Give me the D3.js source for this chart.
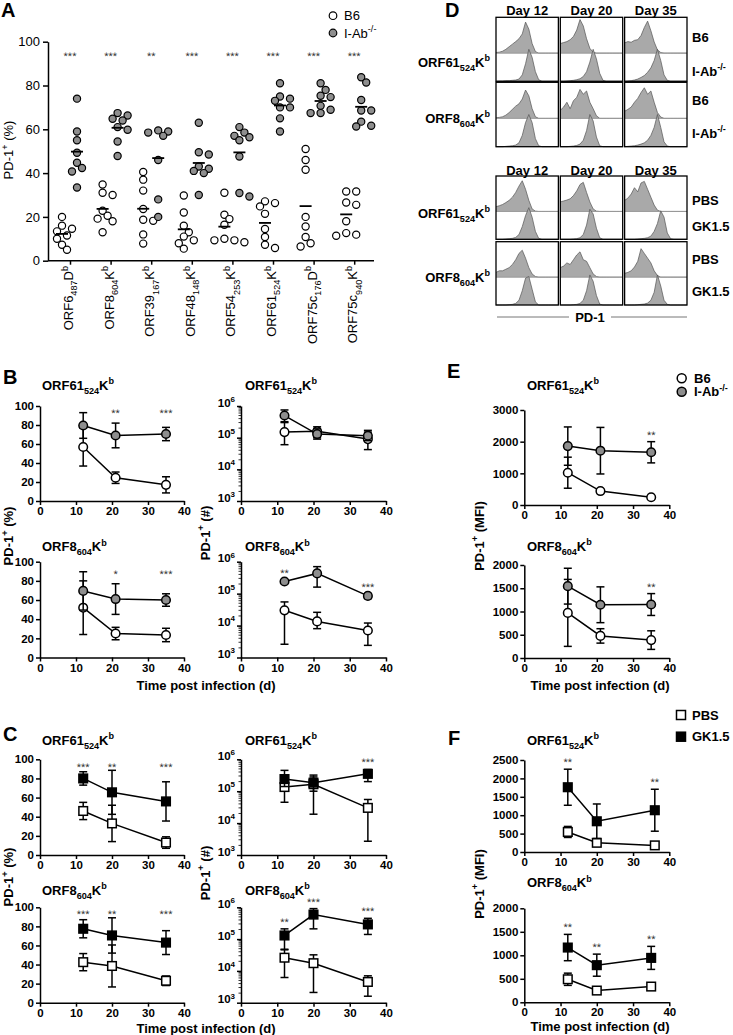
<!DOCTYPE html>
<html><head><meta charset="utf-8">
<script src="https://cdn.jsdelivr.net/npm/d3@7"></script>
<style>body{margin:0;background:#fff}svg{display:block}</style>
</head><body>
<svg id="fig" width="733" height="1035"></svg>
<script>
const FONT = "'Liberation Sans', Arial, Helvetica, sans-serif";

// ---------- Panel A data ----------
const epitopeBase = ["ORF6","ORF8","ORF39","ORF48","ORF54","ORF61","ORF75c","ORF75c"];
const epitopeSub  = ["487","604","167","148","253","524","176","940"];
const epitopeMhc  = ["D","K","K","K","K","K","D","K"];
const aStars = ["***","***","**","***","***","***","***","***"];
const aTicks = [0,20,40,60,80,100];
const aB6 = [
  [20,16,14.6,11.5,13.4,10,7.3,5],
  [34.8,30,31,22.8,20.5,19.2,18,13],
  [40.5,37,32,23.6,18.7,18.2,12,7.8],
  [29.8,22,16,13,11,9.3,8,5.5],
  [31,21,19,16.4,10,9.3,9.3,8.4],
  [27.1,26.3,24.8,21.4,14.5,10.8,7.3,5.8],
  [51,46,41.5,20,15.6,10.8,8,6.5],
  [31.6,31.6,26.6,25.5,18,12.6,11.9,11.4]
];
const aIAb = [
  [74,59,55,49.3,44.7,42.3,40.7,33.4],
  [67.4,66.3,64.8,64,61,59.8,54.4,47.8],
  [59.5,59,58.5,57,46,28,20],
  [63,49.5,48.5,43,42,41,40,30],
  [61,58.5,57,56.4,55,47.6,30.9,29.3],
  [81,75,74,73,70,70,65,59],
  [81,78,75.3,74.7,70.7,68.9,67.4,67.4],
  [83.8,81.4,73.4,68.6,68.6,63.5,61.6,61.3]
];
const groupsA = ["B6","I-Ab"];
const groupsC = ["PBS","GK1.5"];

// ---------- Panel D histogram data (relative counts per bin) ----------
const histDays = ["Day 12","Day 20","Day 35"];
const hist61_B6 = [
  [0.02,0.03,0.06,0.12,0.2,0.28,0.36,0.45,0.6,0.97,0.75,0.3,0.05,0,0,0,0,0,0,0],
  [0.3,0.33,0.36,0.42,0.52,0.72,1.05,0.85,0.45,0.15,0.03,0,0,0,0,0,0,0,0,0],
  [0.32,0.36,0.34,0.4,0.42,0.55,0.8,1.0,0.7,0.35,0.1,0.02,0,0,0,0,0,0,0,0]
];
const hist61_IAb = [
  [0,0.01,0.01,0.02,0.02,0.03,0.04,0.07,0.2,0.55,1.0,0.75,0.3,0.05,0,0,0,0,0,0],
  [0,0,0.01,0.02,0.03,0.05,0.08,0.15,0.3,0.6,1.0,0.7,0.25,0.03,0,0,0,0,0,0],
  [0,0.01,0.02,0.04,0.07,0.12,0.18,0.28,0.42,0.65,1.0,0.65,0.2,0.03,0,0,0,0,0,0]
];
const hist8_B6 = [
  [0.02,0.03,0.05,0.1,0.18,0.28,0.38,0.45,0.6,0.88,0.7,0.3,0.05,0,0,0,0,0,0,0],
  [0.25,0.35,0.5,0.3,0.55,0.65,0.9,0.75,0.85,0.5,0.3,0.08,0,0,0,0,0,0,0,0],
  [0.22,0.28,0.35,0.5,0.62,0.8,0.95,0.75,0.85,0.5,0.18,0.04,0,0,0,0,0,0,0,0]
];
const hist8_IAb = [
  [0,0,0,0.01,0.02,0.03,0.05,0.12,0.35,0.75,1.0,0.75,0.25,0.03,0,0,0,0,0,0],
  [0,0,0,0.01,0.02,0.04,0.08,0.2,0.5,1.0,0.8,0.3,0.03,0,0,0,0,0,0,0],
  [0,0.01,0.02,0.03,0.05,0.08,0.12,0.2,0.35,0.6,1.0,0.6,0.15,0.02,0,0,0,0,0,0]
];
const hist61_PBS = [
  [0.15,0.18,0.22,0.28,0.35,0.45,0.6,0.8,0.97,0.7,0.35,0.08,0.01,0,0,0,0,0,0,0],
  [0.3,0.33,0.36,0.4,0.5,0.65,0.85,0.92,0.6,0.3,0.08,0.01,0,0,0,0,0,0,0,0],
  [0.35,0.42,0.55,0.75,0.62,0.9,0.95,0.7,0.45,0.2,0.04,0,0,0,0,0,0,0,0,0]
];
const hist61_GK = [
  [0,0,0,0.01,0.02,0.03,0.06,0.15,0.4,0.75,1.0,0.7,0.25,0.03,0,0,0,0,0,0],
  [0,0,0,0,0.01,0.02,0.05,0.15,0.45,0.95,0.8,0.35,0.05,0,0,0,0,0,0,0],
  [0,0,0,0,0.01,0.02,0.03,0.05,0.1,0.25,0.5,0.9,0.7,0.2,0.02,0,0,0,0,0]
];
const hist8_PBS = [
  [0.15,0.2,0.2,0.25,0.3,0.4,0.55,0.75,0.85,0.6,0.3,0.1,0.02,0,0,0,0,0,0,0],
  [0.3,0.35,0.45,0.4,0.55,0.7,0.8,0.55,0.5,0.3,0.1,0.02,0,0,0,0,0,0,0,0],
  [0.12,0.15,0.2,0.32,0.5,0.9,0.75,0.6,0.45,0.2,0.05,0,0,0,0,0,0,0,0,0]
];
const hist8_GK = [
  [0,0,0,0,0.01,0.02,0.05,0.15,0.45,0.85,0.9,0.5,0.1,0,0,0,0,0,0,0],
  [0,0,0,0,0.01,0.02,0.05,0.15,0.45,0.95,0.75,0.3,0.03,0,0,0,0,0,0,0],
  [0,0,0,0,0.01,0.02,0.03,0.06,0.15,0.4,0.95,0.6,0.15,0.02,0,0,0,0,0,0]
];

// ---------- Time-course data ----------
const timeTicks = [0,10,20,30,40];
const pctTicks = [0,20,40,60,80,100];
const logTicks = [1e3,1e4,1e5,1e6];
const mfiTicks3000 = [0,1000,2000,3000];
const mfiTicks2000 = [0,500,1000,1500,2000];
const mfiTicks2500 = [0,500,1000,1500,2000,2500];

const daysB = [12,21,35];
const daysC = [12,20,35];
const daysE = [12,21,35];
const daysFtop = [12,20,36];
const daysFbot = [12,20,35];

// B: % PD-1+ (mean, SD)
const bPct61_B6 = [56.8,24.5,17],   bPct61_B6_sd = [20,6,8.5];
const bPct61_IAb = [79.5,69,70.5],  bPct61_IAb_sd = [13.5,13,7];
const bPct8_B6 = [52,25,23.5],      bPct8_B6_sd = [28,6.5,7];
const bPct8_IAb = [69.5,61,60],     bPct8_IAb_sd = [20,16,6.5];
// B: # PD-1+ (mean, low, high)
const bNum61_B6 = [1.5e5,1.6e5,9e4],  bNum61_B6_lo = [6e4,1.0e5,4.2e4], bNum61_B6_hi = [3e5,2.2e5,1.5e5];
const bNum61_IAb = [5e5,1.3e5,1.15e5], bNum61_IAb_lo = [3.2e5,9e4,8e4], bNum61_IAb_hi = [7.5e5,1.9e5,1.7e5];
const bNum8_B6 = [3e4,1.35e4,7e3],    bNum8_B6_lo = [2.6e3,8e3,2.4e3], bNum8_B6_hi = [5.5e4,2.6e4,1.2e4];
const bNum8_IAb = [2.4e5,4.3e5,8.5e4], bNum8_IAb_lo = [2.1e5,1.6e5,7e4], bNum8_IAb_hi = [2.7e5,7e5,1.0e5];
const bStarsPct61 = ["","**","***"], bStarsPct8 = ["","*","***"];
const bStarsNum61 = ["","",""],      bStarsNum8 = ["**","","***"];

// C
const cPct61_PBS = [46,33,13],   cPct61_PBS_sd = [9,19,6];
const cPct61_GK = [80,65.5,56],  cPct61_GK_sd = [7,23,20.5];
const cPct8_PBS = [42.5,38.5,23], cPct8_PBS_sd = [9,22,5];
const cPct8_GK = [77.5,70.5,63],  cPct8_GK_sd = [9.5,18.5,12.5];
const cNum61_PBS = [1.35e5,1.65e5,3e4], cNum61_PBS_lo = [4.5e4,1.9e4,2.7e3], cNum61_PBS_hi = [2.8e5,2.8e5,5.5e4];
const cNum61_GK = [2.4e5,1.85e5,3.5e5], cNum61_GK_lo = [1.4e5,1.0e5,2e5],    cNum61_GK_hi = [4.5e5,3.2e5,4.8e5];
const cNum8_PBS = [2.6e4,1.75e4,4.5e3], cNum8_PBS_lo = [6.2e3,2.1e3,1.6e3],  cNum8_PBS_hi = [4.6e4,3.2e4,7e3];
const cNum8_GK = [1.3e5,5.9e5,2.9e5],   cNum8_GK_lo = [4.8e4,2.1e5,1.4e5],   cNum8_GK_hi = [2.1e5,9.1e5,4.5e5];
const cStarsPct61 = ["***","**","***"], cStarsPct8 = ["***","**","***"];
const cStarsNum61 = ["","","***"],      cStarsNum8 = ["**","***","***"];

// E: MFI
const eMfi61_B6 = [1020,440,245],   eMfi61_B6_sd = [490,60,30];
const eMfi61_IAb = [1860,1715,1665], eMfi61_IAb_sd = [605,735,335];
const eMfi8_B6 = [970,475,385],     eMfi8_B6_sd = [720,155,200];
const eMfi8_IAb = [1545,1145,1150], eMfi8_IAb_sd = [385,385,235];
const eStars61 = ["","","**"], eStars8 = ["","","**"];

// F: MFI
const fMfi61_PBS = [545,250,180],  fMfi61_PBS_sd = [150,45,25];
const fMfi61_GK = [1760,835,1135], fMfi61_GK_sd = [490,470,570];
const fMfi8_PBS = [490,250,335],   fMfi8_PBS_sd = [130,20,30];
const fMfi8_GK = [1165,790,945],   fMfi8_GK_sd = [280,235,245];
const fStars61 = ["**","","**"], fStars8 = ["**","**","**"];

// ---------- helpers ----------
const svg = d3.select("#fig").attr("font-family", FONT);
svg.append("rect").attr("width",733).attr("height",1035).attr("fill","#fff");
const GRAY = "#8e8e8e";

function rich(sel, parts, fs) {
  let cur = 0;
  parts.forEach(([s, m]) => {
    const target = m === "sub" ? 0.34*fs : m === "sup" ? -0.4*fs : 0;
    const t = sel.append("tspan").attr("dy", (target - cur).toFixed(2)).text(s);
    if (m) t.attr("font-size", (0.7*fs).toFixed(1));
    cur = target;
  });
  return sel;
}
function label(parent, x, y, parts, o = {}) {
  const fs = o.fs || 13;
  const t = parent.append("text").attr("font-size", fs)
    .attr("font-weight", o.weight || "bold").attr("text-anchor", o.anchor || "start").attr("fill","#000");
  if (o.rotate) t.attr("transform", `translate(${x},${y}) rotate(-90)`);
  else t.attr("x", x).attr("y", y);
  rich(t, typeof parts === "string" ? [[parts, ""]] : parts, fs);
  return t;
}
const epiParts = i => [[epitopeBase[i],""],[epitopeSub[i],"sub"],[epitopeMhc[i],""],["b","sup"]];
const groupParts = name => name === "I-Ab" ? [["I-Ab",""],["-/-","sup"]] : [[name,""]];
function styleAxis(g, fs, weight) {
  g.attr("font-family", FONT).attr("font-size", fs).attr("font-weight", weight);
  g.select(".domain").attr("stroke","#000").attr("stroke-width",1.5);
  g.selectAll(".tick line").attr("stroke","#000").attr("stroke-width",1.5);
  g.selectAll(".tick text").attr("fill","#000");
}
function panelLetter(x, y, s) {
  svg.append("text").attr("x",x).attr("y",y).attr("font-size",20).attr("font-weight","bold").text(s);
}
function stars(g, x, y, s) {
  g.append("text").attr("x",x).attr("y",y).attr("text-anchor","middle")
    .attr("font-size",11).attr("fill","#333").attr("text-rendering","geometricPrecision").text(s);
}

// ---------- Panel A ----------
(function(){
  const g = svg.append("g");
  const ax = d3.scalePoint().domain(d3.range(epitopeBase.length)).range([70, 354.2]);
  const ay = d3.scaleLinear().domain([0,100]).range([260.7, 41.7]);
  const ya = g.append("g").attr("transform","translate(48,0)")
    .call(d3.axisLeft(ay).tickValues(aTicks).tickSize(5).tickPadding(3).tickSizeOuter(0));
  styleAxis(ya, 13, "normal");
  g.append("line").attr("x1",48).attr("x2",374).attr("y1",ay(0)).attr("y2",ay(0))
    .attr("stroke","#000").attr("stroke-width",1.5);
  const xa = g.append("g").attr("transform",`translate(0,${ay(0)})`)
    .call(d3.axisBottom(ax).tickSize(4).tickFormat(() => ""));
  xa.select(".domain").remove();
  xa.selectAll(".tick line").attr("stroke","#000").attr("stroke-width",1.5);
  epitopeBase.forEach((b, i) => {
    label(g, ax(i)+3, 266, epiParts(i), {fs:13, weight:"normal", anchor:"end", rotate:true});
    stars(g, ax(i), ay(94.5)+6, aStars[i]);
  });
  function swarm(values, cx) {
    const pts = values.map(v => ({v, y: ay(v)})).sort((a,b) => a.y - b.y);
    const placed = [];
    pts.forEach(p => {
      for (let k = 0; k < 30; k++) {
        const off = k === 0 ? 0 : (k % 2 ? 1 : -1) * Math.ceil(k/2) * 5;
        const x = cx + off;
        if (placed.every(q => Math.hypot(q.x - x, q.y - p.y) >= 6.6)) { p.x = x; placed.push(p); return; }
      }
    });
    return placed;
  }
  const groups = [{vals:aB6, dx:-8, fill:"#fff"},{vals:aIAb, dx:7, fill:GRAY}];
  groups.forEach(gr => {
    gr.vals.forEach((vals, i) => {
      const pts = swarm(vals, ax(i) + gr.dx);
      g.append("g").selectAll("circle").data(pts).join("circle")
        .attr("cx", d => d.x).attr("cy", d => d.y).attr("r", 3.6)
        .attr("fill", gr.fill).attr("stroke","#000").attr("stroke-width",1.2);
    });
  });
  groups.forEach(gr => {
    gr.vals.forEach((vals, i) => {
      const m = d3.mean(vals);
      g.append("line").attr("x1", ax(i)+gr.dx-6).attr("x2", ax(i)+gr.dx+6)
        .attr("y1", ay(m)).attr("y2", ay(m)).attr("stroke","#000").attr("stroke-width",1.8);
    });
  });
  label(g, 13, 150, [["PD-1",""],["+","sup"],[" (%)",""]], {fs:13, weight:"normal", anchor:"middle", rotate:true});
  groupsA.forEach((n, i) => {
    g.append("circle").attr("cx",333).attr("cy",15.7 + i*17.3).attr("r",3.8)
      .attr("fill", i ? GRAY : "#fff").attr("stroke","#000").attr("stroke-width",1.2);
    label(g, 344, 20.3 + i*17.3, groupParts(n), {fs:13, weight:"normal"});
  });
})();
panelLetter(1, 17, "A");

// ---------- Panel D ----------
(function(){
  const g = svg.append("g");
  const col = d3.scaleBand().domain(histDays).range([496, 687]).paddingInner(0.03);
  const sets = [
    {dayY: 15, rows: [
      {y0:17.3, h:64, epi:5, lab:66.5, top:hist61_B6, bot:hist61_IAb, names:groupsA, ny:[41.5,75.5]},
      {y0:82.3, h:64.4, epi:1, lab:122.5, top:hist8_B6, bot:hist8_IAb, names:groupsA, ny:[104.5,137.5]}]},
    {dayY: 174.5, rows: [
      {y0:176, h:63.3, epi:5, lab:217.5, top:hist61_PBS, bot:hist61_GK, names:groupsC, ny:[204.5,230.5]},
      {y0:241.7, h:63.3, epi:1, lab:281.5, top:hist8_PBS, bot:hist8_GK, names:groupsC, ny:[263.5,295.5]}]}
  ];
  sets.forEach(set => {
    histDays.forEach(d => {
      g.append("text").attr("x", col(d) + col.bandwidth()/2).attr("y", set.dayY)
        .attr("text-anchor","middle").attr("font-size",13).attr("font-weight","bold").text(d);
    });
    set.rows.forEach(r => {
      label(g, 490, r.lab, epiParts(r.epi), {fs:13, anchor:"end"});
      label(g, 692, r.ny[0], groupParts(r.names[0]), {fs:13});
      label(g, 692, r.ny[1], groupParts(r.names[1]), {fs:13});
      histDays.forEach((d, j) => {
        const bx = col(d), bw = col.bandwidth();
        const sep = r.y0 + 0.56*r.h, unit = 0.5*r.h, base2 = r.y0 + r.h;
        const hx = d3.scaleLinear().domain([0, r.top[j].length - 1]).range([bx, bx + bw]);
        const hyT = d3.scaleLinear().domain([0,1]).range([sep, sep - unit]);
        const hyB = d3.scaleLinear().domain([0,1]).range([base2, base2 - unit]);
        g.append("path").datum(r.top[j])
          .attr("d", d3.area().x((v,i) => hx(i)).y0(sep).y1(v => hyT(v)))
          .attr("fill","#a9a9a9");
        g.append("path").datum(r.top[j])
          .attr("d", d3.line().x((v,i) => hx(i)).y(v => hyT(v)))
          .attr("fill","none").attr("stroke","#555").attr("stroke-width",0.7);
        g.append("line").attr("x1",bx).attr("x2",bx+bw).attr("y1",sep).attr("y2",sep)
          .attr("stroke","#9a9a9a").attr("stroke-width",1);
        g.append("path").datum(r.bot[j])
          .attr("d", d3.area().x((v,i) => hx(i)).y0(base2).y1(v => hyB(v)))
          .attr("fill","#a9a9a9");
        g.append("path").datum(r.bot[j])
          .attr("d", d3.line().x((v,i) => hx(i)).y(v => hyB(v)))
          .attr("fill","none").attr("stroke","#555").attr("stroke-width",0.7);
        g.append("rect").attr("x",bx).attr("y",r.y0).attr("width",bw).attr("height",r.h)
          .attr("fill","none").attr("stroke","#000").attr("stroke-width",1.3);
      });
    });
  });
  g.append("text").attr("x",590).attr("y",321.5).attr("text-anchor","middle")
    .attr("font-size",13).attr("font-weight","bold").text("PD-1");
  g.append("line").attr("x1",497).attr("x2",569).attr("y1",317).attr("y2",317).attr("stroke","#777");
  g.append("line").attr("x1",611).attr("x2",687).attr("y1",317).attr("y2",317).attr("stroke","#777");
})();
panelLetter(445, 16.7, "D");

// ---------- time-course plots ----------
const sdSeries = (mean, sd, shape, fill) => ({mean, lo: mean.map((m,i) => m - sd[i]), hi: mean.map((m,i) => m + sd[i]), shape, fill});
const rgSeries = (mean, lo, hi, shape, fill) => ({mean, lo, hi, shape, fill});

function xyPlot(c) {
  const g = svg.append("g");
  const x = d3.scaleLinear().domain([0,40]).range(c.xr);
  const y = c.log ? d3.scaleLog().domain([1e3,1e6]).range(c.yr) : d3.scaleLinear().domain(c.yd).range(c.yr);
  const xa = g.append("g").attr("transform",`translate(0,${c.yr[0]})`)
    .call(d3.axisBottom(x).tickValues(timeTicks).tickSize(4).tickPadding(2).tickSizeOuter(0));
  styleAxis(xa, 11.5, "bold");
  const yAx = d3.axisLeft(y).tickValues(c.ticks).tickSize(4).tickPadding(2).tickSizeOuter(0)
    .tickFormat(c.log ? () => "" : d3.format("d"));
  const ya = g.append("g").attr("transform",`translate(${c.xr[0]},0)`).call(yAx);
  styleAxis(ya, 11.5, "bold");
  if (c.log) {
    ya.selectAll(".tick text").each(function(d) {
      const t = d3.select(this); t.text(null);
      rich(t, [["10",""],[String(Math.round(Math.log10(d))),"sup"]], 11.5);
    });
    const minor = [];
    [1e3,1e4,1e5].forEach(e => d3.range(2,10).forEach(k => minor.push(k*e)));
    ya.selectAll(".minor").data(minor).join("line").attr("class","minor")
      .attr("x1",-2.5).attr("x2",0).attr("y1",d => y(d)).attr("y2",d => y(d))
      .attr("stroke","#000").attr("stroke-width",0.8);
  }
  c.series.forEach(s => {
    const pts = c.days.map((d,i) => ({x: x(d), y: y(s.mean[i]), lo: y(s.lo[i]), hi: y(s.hi[i])}));
    const sg = g.append("g");
    sg.selectAll(".eb").data(pts).join("line").attr("class","eb")
      .attr("x1",p => p.x).attr("x2",p => p.x).attr("y1",p => p.lo).attr("y2",p => p.hi)
      .attr("stroke","#000").attr("stroke-width",1.5);
    ["lo","hi"].forEach(k => sg.selectAll(".cap"+k).data(pts).join("line").attr("class","cap"+k)
      .attr("x1",p => p.x-4).attr("x2",p => p.x+4).attr("y1",p => p[k]).attr("y2",p => p[k])
      .attr("stroke","#000").attr("stroke-width",1.5));
    sg.append("path").datum(pts).attr("d", d3.line().x(p => p.x).y(p => p.y))
      .attr("fill","none").attr("stroke","#000").attr("stroke-width",1.5);
    if (s.shape === "circle") {
      sg.selectAll(".mk").data(pts).join("circle").attr("class","mk")
        .attr("cx",p => p.x).attr("cy",p => p.y).attr("r",4.3)
        .attr("fill",s.fill).attr("stroke","#000").attr("stroke-width",1.5);
    } else {
      sg.selectAll(".mk").data(pts).join("rect").attr("class","mk")
        .attr("x",p => p.x-4.3).attr("y",p => p.y-4.3).attr("width",8.6).attr("height",8.6)
        .attr("fill",s.fill).attr("stroke","#000").attr("stroke-width",1.5);
    }
  });
  c.stars.forEach((s, i) => {
    if (!s) return;
    const cy = c.starValue != null ? y(c.starValue) : d3.min(c.series, se => y(se.hi[i])) - 9;
    stars(g, x(c.days[i]), cy + 6, s);
  });
  label(g, c.tx, c.ty, epiParts(c.epi), {fs:13});
}

// Panel B
const B6s = (m, sd) => sdSeries(m, sd, "circle", "#fff");
const IAbs = (m, sd) => sdSeries(m, sd, "circle", GRAY);
xyPlot({xr:[40,184], yr:[501,406], yd:[0,100], ticks:pctTicks, days:daysB, epi:5, tx:42, ty:389.5,
  series:[B6s(bPct61_B6,bPct61_B6_sd), IAbs(bPct61_IAb,bPct61_IAb_sd)], stars:bStarsPct61, starValue:94.5});
xyPlot({xr:[241,386], yr:[501,406], log:true, ticks:logTicks, days:daysB, epi:5, tx:245, ty:389.5,
  series:[rgSeries(bNum61_B6,bNum61_B6_lo,bNum61_B6_hi,"circle","#fff"), rgSeries(bNum61_IAb,bNum61_IAb_lo,bNum61_IAb_hi,"circle",GRAY)], stars:bStarsNum61});
xyPlot({xr:[40,184], yr:[657.5,561.7], yd:[0,100], ticks:pctTicks, days:daysB, epi:1, tx:42, ty:551,
  series:[B6s(bPct8_B6,bPct8_B6_sd), IAbs(bPct8_IAb,bPct8_IAb_sd)], stars:bStarsPct8, starValue:89.5});
xyPlot({xr:[241,386], yr:[657.5,561.7], log:true, ticks:logTicks, days:daysB, epi:1, tx:245, ty:551,
  series:[rgSeries(bNum8_B6,bNum8_B6_lo,bNum8_B6_hi,"circle","#fff"), rgSeries(bNum8_IAb,bNum8_IAb_lo,bNum8_IAb_hi,"circle",GRAY)], stars:bStarsNum8});
panelLetter(3, 383.5, "B");
label(svg, 13, 536, [["PD-1",""],["+","sup"],[" (%)",""]], {fs:13, anchor:"middle", rotate:true});
label(svg, 209.5, 533, [["PD-1",""],["+","sup"],[" (#)",""]], {fs:13, anchor:"middle", rotate:true});
label(svg, 206, 689.5, "Time post infection (d)", {fs:13, anchor:"middle"});

// Panel C
const PBSs = (m, sd) => sdSeries(m, sd, "square", "#fff");
const GKs = (m, sd) => sdSeries(m, sd, "square", "#000");
xyPlot({xr:[40,184], yr:[855,759.3], yd:[0,100], ticks:pctTicks, days:daysC, epi:5, tx:42, ty:744.5,
  series:[PBSs(cPct61_PBS,cPct61_PBS_sd), GKs(cPct61_GK,cPct61_GK_sd)], stars:cStarsPct61, starValue:94});
xyPlot({xr:[241,386], yr:[855,759.3], log:true, ticks:logTicks, days:daysC, epi:5, tx:245, ty:744.5,
  series:[rgSeries(cNum61_PBS,cNum61_PBS_lo,cNum61_PBS_hi,"square","#fff"), rgSeries(cNum61_GK,cNum61_GK_lo,cNum61_GK_hi,"square","#000")], stars:cStarsNum61});
xyPlot({xr:[40,184], yr:[1002.7,907.3], yd:[0,100], ticks:pctTicks, days:daysC, epi:1, tx:42, ty:894.5,
  series:[PBSs(cPct8_PBS,cPct8_PBS_sd), GKs(cPct8_GK,cPct8_GK_sd)], stars:cStarsPct8, starValue:95});
xyPlot({xr:[241,386], yr:[1002.7,907.3], log:true, ticks:logTicks, days:daysC, epi:1, tx:245, ty:894.5,
  series:[rgSeries(cNum8_PBS,cNum8_PBS_lo,cNum8_PBS_hi,"square","#fff"), rgSeries(cNum8_GK,cNum8_GK_lo,cNum8_GK_hi,"square","#000")], stars:cStarsNum8});
panelLetter(3, 741, "C");
label(svg, 13, 877, [["PD-1",""],["+","sup"],[" (%)",""]], {fs:13, anchor:"middle", rotate:true});
label(svg, 209.5, 873, [["PD-1",""],["+","sup"],[" (#)",""]], {fs:13, anchor:"middle", rotate:true});
label(svg, 206, 1033, "Time post infection (d)", {fs:13, anchor:"middle"});

// Panel E
xyPlot({xr:[524.3,669.3], yr:[505,410], yd:[0,3000], ticks:mfiTicks3000, days:daysE, epi:5, tx:527, ty:389.5,
  series:[B6s(eMfi61_B6,eMfi61_B6_sd), IAbs(eMfi61_IAb,eMfi61_IAb_sd)], stars:eStars61});
xyPlot({xr:[524.3,669.3], yr:[658,565], yd:[0,2000], ticks:mfiTicks2000, days:daysE, epi:1, tx:527, ty:550.5,
  series:[B6s(eMfi8_B6,eMfi8_B6_sd), IAbs(eMfi8_IAb,eMfi8_IAb_sd)], stars:eStars8});
panelLetter(447, 378, "E");
label(svg, 483.5, 536, [["PD-1",""],["+","sup"],[" (MFI)",""]], {fs:13, anchor:"middle", rotate:true});
label(svg, 600, 689.5, "Time post infection (d)", {fs:13, anchor:"middle"});
groupsA.forEach((n, i) => {
  svg.append("circle").attr("cx",681.7).attr("cy",378.3 + i*13.4).attr("r",4.5)
    .attr("fill", i ? GRAY : "#fff").attr("stroke","#000").attr("stroke-width",1.5);
  label(svg, 694, 383 + i*13.4, groupParts(n), {fs:13});
});

// Panel F
xyPlot({xr:[524.3,669.3], yr:[852,760], yd:[0,2500], ticks:mfiTicks2500, days:daysFtop, epi:5, tx:527, ty:744.5,
  series:[PBSs(fMfi61_PBS,fMfi61_PBS_sd), GKs(fMfi61_GK,fMfi61_GK_sd)], stars:fStars61});
xyPlot({xr:[524.3,669.3], yr:[1002.3,908.3], yd:[0,2000], ticks:mfiTicks2000, days:daysFbot, epi:1, tx:527, ty:887,
  series:[PBSs(fMfi8_PBS,fMfi8_PBS_sd), GKs(fMfi8_GK,fMfi8_GK_sd)], stars:fStars8});
panelLetter(448, 745, "F");
label(svg, 483.5, 884, [["PD-1",""],["+","sup"],[" (MFI)",""]], {fs:13, anchor:"middle", rotate:true});
label(svg, 600, 1031, "Time post infection (d)", {fs:13, anchor:"middle"});
groupsC.forEach((n, i) => {
  svg.append("rect").attr("x",681-4.5).attr("y",715 + i*21.7 - 4.5).attr("width",9).attr("height",9)
    .attr("fill", i ? "#000" : "#fff").attr("stroke","#000").attr("stroke-width",1.5);
  label(svg, 692, 719.5 + i*21.7, [[n,""]], {fs:13});
});
</script>
</body></html>
